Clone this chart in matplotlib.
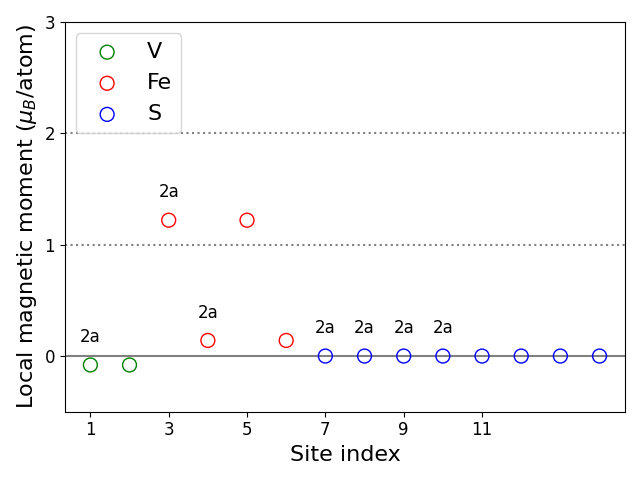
import matplotlib
matplotlib.use('Agg')
import matplotlib.pyplot as plt
import numpy as np

v_sites = [1, 2]
v_moments = [-0.08, -0.08]
fe_sites = [3, 4, 5, 6]
fe_moments = [1.22, 0.14, 1.22, 0.14]
s_sites = [7, 8, 9, 10, 11, 12, 13, 14]
s_moments = [0.0, 0.0, 0.0, 0.0, 0.0, 0.0, 0.0, 0.0]

label_sites = [1, 3, 4, 7, 8, 9, 10]
label_text = '2a'
xticks = [1, 3, 5, 7, 9, 11]


def main():
    fig, ax = plt.subplots(figsize=(6.4, 4.8), dpi=100)

    ax.scatter(v_sites, v_moments, s=100, facecolors='none', edgecolors='green', label='V', zorder=3)
    ax.scatter(fe_sites, fe_moments, s=100, facecolors='none', edgecolors='red', label='Fe', zorder=3)
    ax.scatter(s_sites, s_moments, s=100, facecolors='none', edgecolors='blue', label='S', zorder=3)

    all_sites = v_sites + fe_sites + s_sites
    all_moments = v_moments + fe_moments + s_moments
    for site in label_sites:
        m = all_moments[all_sites.index(site)]
        ax.text(site, m + 0.25, label_text, ha='center', va='center', fontsize=12)

    ax.axhline(0, color='gray', lw=1.5, zorder=1)
    ax.axhline(1, color='gray', ls=':', lw=1.5, zorder=1)
    ax.axhline(2, color='gray', ls=':', lw=1.5, zorder=1)

    ax.set_ylim(-0.5, 3)
    ax.set_xticks(xticks)
    ax.set_yticks([0, 1, 2, 3])
    ax.tick_params(labelsize=12)
    ax.set_xlabel('Site index', fontsize=16)
    ax.set_ylabel(r'Local magnetic moment ($\mu_B$/atom)', fontsize=16)
    ax.legend(loc='upper left', fontsize=16)

    fig.tight_layout()
    fig.savefig('out.png', dpi=100)


if __name__ == '__main__':
    main()
